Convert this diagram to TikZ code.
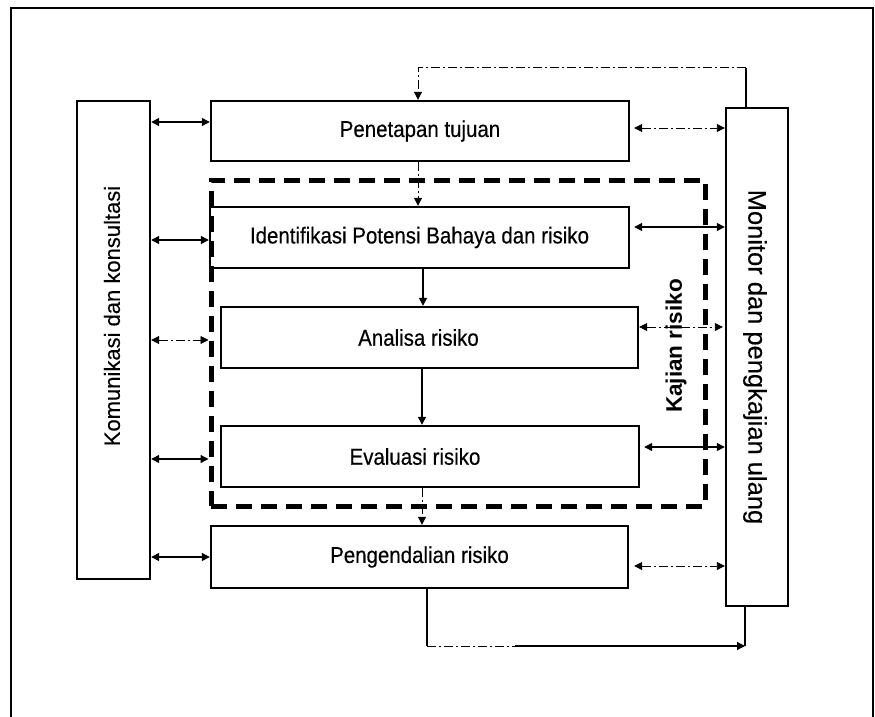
\documentclass[tikz,border=0pt]{standalone}
\usepackage{fontspec}
\setmainfont{Liberation Sans}
\newfontfamily\narrowsf[FakeStretch=0.89,FakeBold=0.35]{Liberation Sans}
\newfontfamily\widesf[FakeBold=0.25]{Liberation Sans}
\usetikzlibrary{arrows.meta}

\newcommand{\boxfont}{\narrowsf\fontsize{23}{26}\selectfont}

\begin{document}
\begin{tikzpicture}[x=1pt,y=-1pt,
  stagebox/.style 2 args={draw,line width=2.4pt,minimum width=#1,minimum height=#2,inner sep=0pt,font=\boxfont},
  sidebox/.style 2 args={draw,line width=2.4pt,minimum width=#1,minimum height=#2,inner sep=0pt},
  link/.style={line width=1.3pt},
  twoway/.style={link,{Triangle[length=8pt,width=8pt]}-{Triangle[length=8pt,width=8pt]}},
  oneway/.style={link,-{Triangle[length=8pt,width=8pt]}},
  dashdot/.style={dash pattern=on 9pt off 3pt on 2pt off 3pt},
  frameline/.style={line width=1.8pt}]

\useasboundingbox (0,0) rectangle (875,717);

% outer frame
\coordinate (fbl) at (11,717);
\coordinate (ftl) at (11,8);
\coordinate (ftr) at (873,8);
\coordinate (fbr) at (873,717);
\draw[frameline] (fbl) -- (ftl) -- (ftr) -- (fbr);

% risk assessment group (dashed)
\node[draw,line width=5pt,dash pattern=on 16pt off 9pt,minimum width=494pt,minimum height=326pt,inner sep=0pt]
  (kaj) at (458,343) {};

% process stages
\node[stagebox={418pt}{60pt}] (pen) at (420,131) {Penetapan tujuan};
\node[stagebox={419pt}{61pt}] (ide) at (419.5,237.5) {Identifikasi Potensi Bahaya dan risiko};
\node[stagebox={417pt}{61pt},label={[font=\boxfont,xshift=-11pt]center:Analisa risiko}] (ana) at (429.5,337.5) {};
\node[stagebox={418pt}{61pt},label={[font=\boxfont,xshift=-15pt]center:Evaluasi risiko}] (eva) at (430,456.5) {};
\node[stagebox={417pt}{62pt}] (pgd) at (419.5,557) {Pengendalian risiko};

% side columns
\node[sidebox={73pt}{478pt}] (kom) at (113.5,340) {};
\node[rotate=90,font=\widesf\fontsize{22}{24}\selectfont] (komtxt) at (112,316) {Komunikasi dan konsultasi};
\node[sidebox={62pt}{498pt}] (mon) at (757,357) {};
\node[rotate=-90,font=\widesf\fontsize{25.5}{28}\selectfont] (montxt) at (755,357) {Monitor dan pengkajian ulang};

\node[rotate=90,font=\bfseries\fontsize{22.5}{25}\selectfont] (kajtxt) at (676,346) {Kajian risiko};

% communication links
\draw[twoway] (kom.east |- 0,122) -- (pen.west |- 0,122);
\draw[twoway] (kom.east |- 0,240) -- (ide.west |- 0,240);
\draw[twoway,line width=0.9pt,dashdot] (kom.east |- 0,340) -- (kaj.west |- 0,340);
\draw[twoway] (kom.east |- 0,459) -- (kaj.west |- 0,459);
\draw[twoway] (kom.east |- 0,557) -- (pgd.west |- 0,557);

% monitoring links
\draw[twoway,line width=0.9pt,dashdot,shorten <=4pt] (pen.east |- 0,128) -- (mon.west |- 0,128);
\draw[twoway,shorten <=4pt] (ide.east |- 0,227) -- (mon.west |- 0,227);
\draw[twoway,line width=0.9pt,dashdot,shorten >=2pt] (ana.east |- 0,327) -- (mon.west |- 0,327);
\draw[twoway,shorten <=4pt] (eva.east |- 0,447) -- (mon.west |- 0,447);
\draw[twoway,line width=0.9pt,dashdot,shorten <=5pt] (pgd.east |- 0,566) -- (mon.west |- 0,566);

% main flow
\draw[oneway,line width=1pt,dashdot] (pen.south -| 418,0) -- (ide.north -| 418,0);
\draw[oneway] (ide.south -| 423,0) -- (ana.north -| 423,0);
\draw[oneway] (ana.south -| 422,0) -- (eva.north -| 422,0);
\draw[oneway,line width=1pt,dashdot] (eva.south -| 422,0) -- (pgd.north -| 422,0);

% feedback from monitoring to goal setting
\coordinate (fbR) at (746,68);
\coordinate (fbL) at (418,68);
\draw[link] (mon.north -| fbR) -- (fbR);
\draw[oneway,line width=1pt,dashdot] (fbR) -- (fbL) -- (pen.north -| fbL);

% control results back to monitoring
\coordinate (lpL) at (427,646);
\coordinate (lpM) at (515,646);
\coordinate (lpR) at (745,646);
\draw[link] (pgd.south -| lpL) -- (lpL);
\draw[link,line width=1pt,dashdot] (lpL) -- (lpM);
\draw[oneway] (lpM) -- (lpR);
\draw[link] (lpR) -- (mon.south -| lpR);
\end{tikzpicture}
\end{document}
